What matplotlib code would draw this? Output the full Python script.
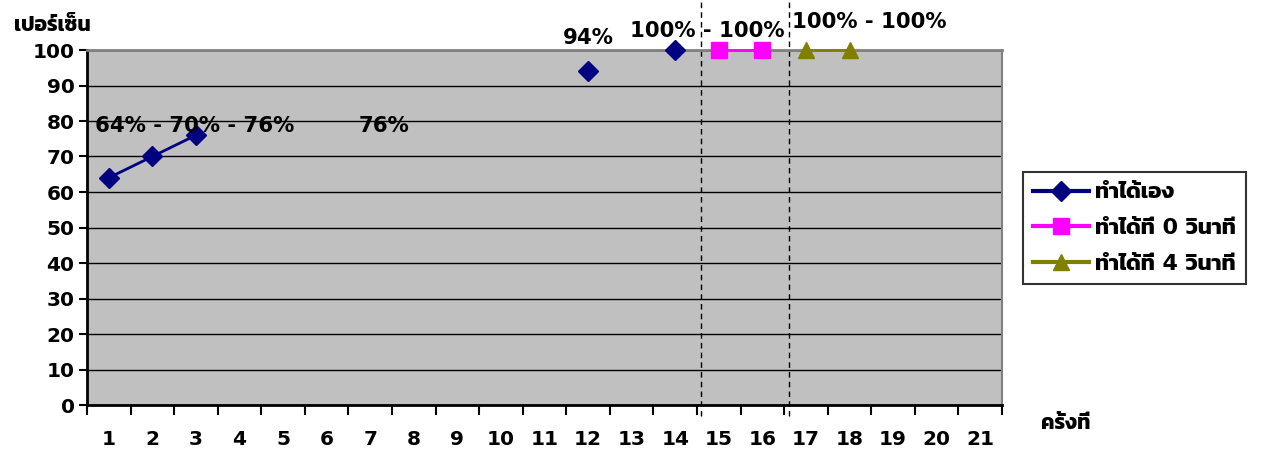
import numpy as np
import matplotlib
matplotlib.use("Agg")
import matplotlib.pyplot as plt
from matplotlib import font_manager
from matplotlib.ft2font import FT2Font

# === Data ===
rounds = list(range(1, 22))
nan = np.nan
self_done = [64, 70, 76] + [nan] * 8 + [94, nan, 100] + [nan] * 7
done_0s = [nan] * 14 + [100, 100] + [nan] * 5
done_4s = [nan] * 16 + [100, 100] + [nan] * 3
series_names = ["ทำได้เอง", "ทำได้ที่ 0 วินาที", "ทำได้ที่ 4 วินาที"]
phase_breaks = [14.6, 16.6]
label_texts = ["64% - 70% - 76%", "76%", "94%", "100% - 100%", "100% - 100%"]
label_pos = [(2.98, 78.6), (7.32, 78.6), (12.0, 103.4), (14.73, 105.4), (18.45, 107.9)]


# === Pick a font that has Thai glyphs (bold if possible) ===
def has_thai(path):
    try:
        return ord("ท") in FT2Font(path).get_charmap()
    except Exception:
        return False

thai_fonts = [f for f in font_manager.fontManager.ttflist if has_thai(f.fname)]
thai_fonts.sort(key=lambda f: -(f.weight if isinstance(f.weight, int) else 400))
thai = thai_fonts[0].name if thai_fonts else None
fams = ["DejaVu Sans"] + ([thai] if thai else [])
plt.rcParams["font.family"] = fams
plt.rcParams["font.weight"] = "bold"
FS = 14.5

# === Plot ===
fig = plt.figure(figsize=(12.68, 4.61), dpi=100)
ax = fig.add_axes([87 / 1268, 1 - 405 / 461, 915 / 1268, 355 / 461])
ax.set_facecolor("#C0C0C0")

x = np.array(rounds)
ax.plot(x, self_done, color="#000080", marker="D", markersize=10, lw=2,
        label=series_names[0], clip_on=False, zorder=5)
ax.plot(x, done_0s, color="#FF00FF", marker="s", markersize=11, lw=2,
        label=series_names[1], clip_on=False, zorder=5)
ax.plot(x, done_4s, color="#808000", marker="^", markersize=11, lw=2,
        label=series_names[2], clip_on=False, zorder=5)

ax.set_xlim(0.5, 21.5)
ax.set_ylim(0, 100)
ax.set_yticks(range(0, 101, 10))
ax.set_xticks(x)
ax.set_xticks(np.arange(0.5, 22, 1), minor=True)
ax.tick_params(axis="x", which="major", length=0, pad=18, labelsize=FS)
ax.tick_params(axis="x", which="minor", length=7, width=1.5, direction="out")
ax.tick_params(axis="y", length=6, width=1.5, direction="out", labelsize=FS, pad=3)
for lbl in ax.get_xticklabels() + ax.get_yticklabels():
    lbl.set_fontweight("bold")

ax.yaxis.grid(True, color="black", lw=1)
ax.set_axisbelow(True)
ax.spines["left"].set_linewidth(2)
ax.spines["bottom"].set_linewidth(2)
ax.spines["top"].set_color("#808080")
ax.spines["top"].set_linewidth(2)
ax.spines["right"].set_color("#808080")
ax.spines["right"].set_linewidth(1.5)

for xb in phase_breaks:
    ax.plot([xb, xb], [-0.03, 1.14], color="black", lw=1, ls=(0, (4, 3)),
            transform=ax.get_xaxis_transform(), clip_on=False, zorder=1)

for txt, (tx, ty) in zip(label_texts, label_pos):
    ax.text(tx, ty, txt, ha="center", va="center", fontsize=15.3,
            fontweight="bold", clip_on=False, zorder=6)

fig.text(52 / 1268, 1 - 25 / 461, "เปอร์เซ็น", ha="center", va="center",
         fontsize=15, fontweight="bold")
fig.text(1066 / 1268, 1 - 423 / 461, "ครั้งที่", ha="center", va="center",
         fontsize=15, fontweight="bold")

leg = fig.legend(loc="center left", bbox_to_anchor=(1023 / 1268, 1 - 228 / 461),
                 borderaxespad=0, frameon=True, fancybox=False, edgecolor="black",
                 prop={"weight": "bold", "size": 16}, handlelength=2.5,
                 handletextpad=0.3, borderpad=0.45, labelspacing=0.7)
leg.get_frame().set_linewidth(1.5)
for h in leg.legend_handles:
    h.set_linewidth(3)

fig.savefig("out.png", dpi=100)
plt.close(fig)
